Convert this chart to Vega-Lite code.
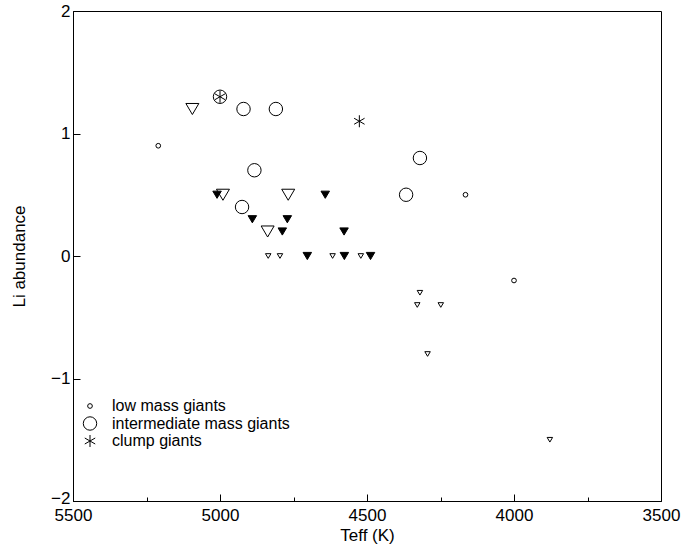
{
  "$schema": "https://vega.github.io/schema/vega-lite/v6.json",
  "autosize": "none",
  "width": 588,
  "height": 490,
  "padding": {"left": 73, "top": 11, "right": 35, "bottom": 49},
  "background": "white",
  "config": {
    "font": "Liberation Sans",
    "view": {"stroke": "black", "strokeWidth": 1},
    "axis": {
      "grid": false,
      "domainColor": "black",
      "tickColor": "black",
      "labelColor": "black",
      "titleColor": "black",
      "labelFont": "Liberation Sans",
      "titleFont": "Liberation Sans",
      "labelFontSize": 17,
      "titleFontSize": 17,
      "titleFontWeight": "normal",
      "labelFlush": false
    }
  },
  "data": {
    "values": [
      {"teff": 5210, "li": 0.90, "type": "low mass giants"},
      {"teff": 4165, "li": 0.50, "type": "low mass giants"},
      {"teff": 4000, "li": -0.20, "type": "low mass giants"},
      {"teff": 5010, "li": 0.50, "type": "upper limit"},
      {"teff": 4890, "li": 0.30, "type": "upper limit"},
      {"teff": 4771, "li": 0.30, "type": "upper limit"},
      {"teff": 4788, "li": 0.20, "type": "upper limit"},
      {"teff": 4642, "li": 0.50, "type": "upper limit"},
      {"teff": 4578, "li": 0.20, "type": "upper limit"},
      {"teff": 4703, "li": 0.00, "type": "upper limit"},
      {"teff": 4577, "li": 0.00, "type": "upper limit"},
      {"teff": 4488, "li": 0.00, "type": "upper limit"},
      {"teff": 4836, "li": 0.00, "type": "upper limit, low mass"},
      {"teff": 4796, "li": 0.00, "type": "upper limit, low mass"},
      {"teff": 4617, "li": 0.00, "type": "upper limit, low mass"},
      {"teff": 4521, "li": 0.00, "type": "upper limit, low mass"},
      {"teff": 4320, "li": -0.30, "type": "upper limit, low mass"},
      {"teff": 4329, "li": -0.40, "type": "upper limit, low mass"},
      {"teff": 4249, "li": -0.40, "type": "upper limit, low mass"},
      {"teff": 4294, "li": -0.80, "type": "upper limit, low mass"},
      {"teff": 3878, "li": -1.50, "type": "upper limit, low mass"},
      {"teff": 5094, "li": 1.20, "type": "upper limit, intermediate"},
      {"teff": 4990, "li": 0.50, "type": "upper limit, intermediate"},
      {"teff": 4768, "li": 0.50, "type": "upper limit, intermediate"},
      {"teff": 4838, "li": 0.20, "type": "upper limit, intermediate"},
      {"teff": 5000, "li": 1.30, "type": "intermediate mass giants"},
      {"teff": 4920, "li": 1.20, "type": "intermediate mass giants"},
      {"teff": 4810, "li": 1.20, "type": "intermediate mass giants"},
      {"teff": 4883, "li": 0.70, "type": "intermediate mass giants"},
      {"teff": 4925, "li": 0.40, "type": "intermediate mass giants"},
      {"teff": 4367, "li": 0.50, "type": "intermediate mass giants"},
      {"teff": 4320, "li": 0.80, "type": "intermediate mass giants"},
      {"teff": 5000, "li": 1.30, "type": "clump giants"},
      {"teff": 4526, "li": 1.10, "type": "clump giants"}
    ]
  },
  "mark": {"type": "point", "stroke": "black", "strokeWidth": 1, "opacity": 1},
  "encoding": {
    "x": {
      "field": "teff",
      "type": "quantitative",
      "title": "Teff (K)",
      "scale": {"domain": [3500, 5500], "reverse": true, "nice": false, "zero": false},
      "axis": {
        "values": [5500, 5250, 5000, 4750, 4500, 4250, 4000, 3750, 3500],
        "labelExpr": "datum.value % 500 === 0 ? datum.label : ''",
        "format": "d",
        "tickSize": {"condition": {"test": "datum.value % 500 === 0", "value": -7}, "value": -4},
        "labelPadding": 13,
        "titlePadding": 4
      }
    },
    "y": {
      "field": "li",
      "type": "quantitative",
      "title": "Li abundance",
      "scale": {"domain": [-2, 2], "nice": false, "zero": false},
      "axis": {
        "values": [-2, -1.5, -1, -0.5, 0, 0.5, 1, 1.5, 2],
        "labelExpr": "datum.value % 1 === 0 ? datum.label : ''",
        "format": "d",
        "tickSize": {"condition": {"test": "datum.value % 1 === 0", "value": -7}, "value": -4},
        "labelOffset": {"condition": {"test": "datum.value === -2", "value": -3}, "value": 0},
        "labelPadding": 10,
        "titlePadding": 22
      }
    },
    "shape": {
      "field": "type",
      "type": "nominal",
      "scale": {
        "domain": ["low mass giants", "intermediate mass giants", "clump giants", "upper limit, intermediate", "upper limit", "upper limit, low mass"],
        "range": [
          "circle",
          "circle",
          "M0,-1L0,1M-0.87,-0.5L0.87,0.5M-0.87,0.5L0.87,-0.5",
          "M-1,-0.85L1,-0.85L0,0.85Z",
          "M-1,-0.85L1,-0.85L0,0.85Z",
          "M-1,-0.85L1,-0.85L0,0.85Z"
        ]
      },
      "legend": {
        "title": null,
        "orient": "none",
        "legendX": 9,
        "legendY": 387,
        "values": ["low mass giants", "intermediate mass giants", "clump giants"],
        "labelFontSize": 16,
        "labelFont": "Liberation Sans",
        "labelColor": "black",
        "labelLimit": 400,
        "labelOffset": 14,
        "rowPadding": 0.5,
        "symbolStrokeColor": "black",
        "symbolStrokeWidth": 1
      }
    },
    "size": {
      "field": "type",
      "type": "nominal",
      "scale": {
        "type": "ordinal",
        "domain": ["low mass giants", "intermediate mass giants", "clump giants", "upper limit, intermediate", "upper limit", "upper limit, low mass"],
        "range": [22, 180, 144, 169, 72, 30]
      }
    },
    "fill": {
      "field": "type",
      "type": "nominal",
      "scale": {
        "domain": ["low mass giants", "intermediate mass giants", "clump giants", "upper limit, intermediate", "upper limit", "upper limit, low mass"],
        "range": ["transparent", "transparent", "transparent", "transparent", "black", "transparent"]
      }
    }
  }
}
